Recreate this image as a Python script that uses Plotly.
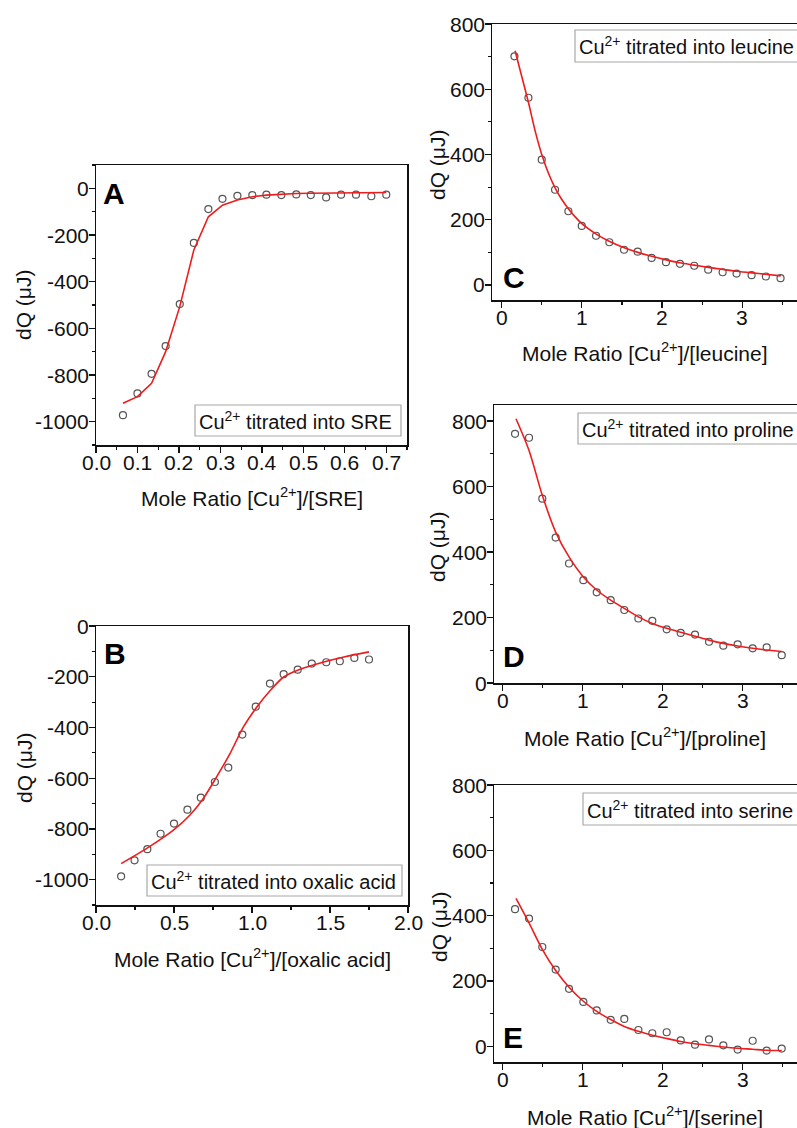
import plotly.graph_objects as go

W, H = 797, 1128

# ---------------- data ----------------
# Panel A: Cu2+ titrated into SRE
a_x = [0.065, 0.100, 0.134, 0.168, 0.202, 0.236, 0.271, 0.305, 0.341, 0.377,
       0.411, 0.447, 0.483, 0.518, 0.555, 0.591, 0.627, 0.664, 0.700]
a_y = [-972, -879, -795, -676, -496, -234, -89, -45, -32, -29,
       -27, -29, -26, -29, -39, -27, -27, -34, -27]
a_fit = [-921, -893, -836, -700, -507, -264, -122, -72, -50, -36,
         -29, -25, -22, -21, -20, -19, -19, -18, -18]

# Panel B: Cu2+ titrated into oxalic acid
b_x = [0.161, 0.247, 0.329, 0.414, 0.500, 0.586, 0.672, 0.762, 0.848, 0.938,
       1.024, 1.115, 1.203, 1.293, 1.383, 1.476, 1.563, 1.656, 1.750]
b_y = [-987, -924, -880, -819, -779, -724, -677, -615, -558, -428,
       -318, -227, -190, -172, -148, -143, -139, -126, -132]
b_fit_x = [0.161, 0.333, 0.494, 0.601, 0.687, 0.773, 0.859, 0.945, 1.031,
           1.117, 1.203, 1.289, 1.460, 1.589, 1.750]
b_fit_y = [-937, -874, -806, -746, -681, -595, -503, -398, -319,
           -254, -201, -175, -142, -122, -102]

# Panel C: Cu2+ titrated into leucine
c_x = [0.160, 0.334, 0.500, 0.666, 0.832, 0.999, 1.177, 1.343, 1.526, 1.696,
       1.870, 2.049, 2.223, 2.401, 2.575, 2.755, 2.929, 3.116, 3.294, 3.477]
c_y = [701, 574, 384, 292, 226, 181, 151, 131, 108, 102,
       83, 70, 65, 59, 47, 39, 35, 30, 26, 21]
c_fit_x = [0.168, 0.250, 0.334, 0.420, 0.500, 0.580, 0.666, 0.750, 0.832, 0.920,
           1.000, 1.180, 1.340, 1.520, 1.700, 1.870, 2.050, 2.220, 2.400, 2.580,
           2.750, 2.930, 3.120, 3.290, 3.480]
c_fit_y = [718, 640, 560, 470, 400, 345, 298, 262, 234, 208,
           188, 156, 134, 115, 100, 88, 77, 68, 61, 54,
           48, 42, 37, 33, 28]

# Panel D: Cu2+ titrated into proline
d_x = [0.154, 0.329, 0.495, 0.662, 0.829, 1.008, 1.175, 1.350, 1.520, 1.696,
       1.870, 2.050, 2.225, 2.404, 2.579, 2.758, 2.937, 3.125, 3.300, 3.488]
d_y = [761, 749, 563, 444, 365, 314, 277, 253, 223, 197,
       190, 164, 153, 148, 126, 114, 118, 106, 109, 85]
d_fit_x = [0.166, 0.329, 0.495, 0.662, 0.829, 1.008, 1.175, 1.350, 1.520, 1.696,
           1.870, 2.050, 2.225, 2.404, 2.579, 2.758, 2.937, 3.125, 3.300, 3.488]
d_fit_y = [807, 710, 573, 461, 385, 324, 284, 253, 228, 202,
           182, 167, 155, 143, 131, 121, 113, 106, 101, 96]

# Panel E: Cu2+ titrated into serine
e_x = [0.154, 0.329, 0.495, 0.662, 0.829, 1.008, 1.175, 1.350, 1.520, 1.696,
       1.870, 2.050, 2.225, 2.404, 2.579, 2.758, 2.937, 3.125, 3.300, 3.488]
e_y = [420, 391, 304, 235, 176, 136, 110, 81, 84, 50,
       40, 43, 18, 5, 21, 3, -10, 17, -13, -7]
e_fit_x = [0.166, 0.329, 0.495, 0.662, 0.829, 1.008, 1.175, 1.350, 1.520, 1.696,
           1.870, 2.050, 2.225, 2.404, 2.579, 2.758, 2.937, 3.125, 3.300, 3.488]
e_fit_y = [453, 378, 297, 232, 181, 138, 107, 82, 61, 46,
           34, 24, 15, 8, 3, -2, -6, -9, -12, -13]

# tick values and labels (hyphen minus, as in the reference)
neg_ticks = [0, -200, -400, -600, -800, -1000]
neg_labels = ["0", "-200", "-400", "-600", "-800", "-1000"]
pos_ticks = [0, 200, 400, 600, 800]
pos_labels = ["0", "200", "400", "600", "800"]
a_xticks = [0.0, 0.1, 0.2, 0.3, 0.4, 0.5, 0.6, 0.7]
a_xlabels = ["0.0", "0.1", "0.2", "0.3", "0.4", "0.5", "0.6", "0.7"]
b_xticks = [0.0, 0.5, 1.0, 1.5, 2.0]
b_xlabels = ["0.0", "0.5", "1.0", "1.5", "2.0"]
cde_xticks = [0, 1, 2, 3]
cde_xlabels = ["0", "1", "2", "3"]

panel_letters = ["A", "B", "C", "D", "E"]
legend_texts = ["Cu<sup>2+</sup> titrated into SRE",
                "Cu<sup>2+</sup> titrated into oxalic acid",
                "Cu<sup>2+</sup> titrated into leucine",
                "Cu<sup>2+</sup> titrated into proline",
                "Cu<sup>2+</sup> titrated into serine"]
x_titles = ["Mole Ratio [Cu<sup>2+</sup>]/[SRE]",
            "Mole Ratio [Cu<sup>2+</sup>]/[oxalic acid]",
            "Mole Ratio [Cu<sup>2+</sup>]/[leucine]",
            "Mole Ratio [Cu<sup>2+</sup>]/[proline]",
            "Mole Ratio [Cu<sup>2+</sup>]/[serine]"]
y_title = "dQ (μJ)"

# ---------------- styling / layout helpers ----------------
FONT = "Liberation Sans, Arial, Helvetica, sans-serif"
RED = "#ee1c1c"
MK = "#555555"
INK = "#111111"
TICKSIZE = 21


def px(x):
    return x / W


def py(y):
    return 1 - y / H


fig = go.Figure()

series = [
    ("", a_x, a_y, a_x, a_fit, "linear"),
    ("2", b_x, b_y, b_fit_x, b_fit_y, "spline"),
    ("3", c_x, c_y, c_fit_x, c_fit_y, "spline"),
    ("4", d_x, d_y, d_fit_x, d_fit_y, "spline"),
    ("5", e_x, e_y, e_fit_x, e_fit_y, "spline"),
]

for sfx, xs, ys, fx, fy, shape in series:
    fig.add_trace(go.Scatter(
        x=xs, y=ys, mode="markers", xaxis="x" + sfx, yaxis="y" + sfx,
        marker=dict(symbol="circle-open", size=7, color=MK, line=dict(width=1.2, color=MK)),
        showlegend=False, hoverinfo="skip"))
    fig.add_trace(go.Scatter(
        x=fx, y=fy, mode="lines", xaxis="x" + sfx, yaxis="y" + sfx,
        line=dict(color=RED, width=1.6, shape=shape, smoothing=0.8),
        showlegend=False, hoverinfo="skip"))

# frame pixel boxes: left, right, top, bottom
frames = [
    (96, 407, 165, 445),
    (96, 408, 626, 905),
    (492, 797, 24, 300),
    (494, 797, 405, 683),
    (494, 797, 785, 1062),
]
xranges = [[0, 0.75], [0, 2.0], [-0.12, 3.682], [-0.109, 3.679], [-0.109, 3.679]]
yranges = [[-1100, 100], [-1100, 0], [-46, 800], [0, 849], [-48, 800]]
ytickv = [neg_ticks, neg_ticks, pos_ticks, pos_ticks, pos_ticks]
ytickt = [neg_labels, neg_labels, pos_labels, pos_labels, pos_labels]
xtickv = [a_xticks, b_xticks, cde_xticks, cde_xticks, cde_xticks]
xtickt = [a_xlabels, b_xlabels, cde_xlabels, cde_xlabels, cde_xlabels]
xminor = [0.05, 0.25, 0.5, 0.5, 0.5]
full_box = [True, True, False, False, False]

layout = dict(
    template="none",
    width=W, height=H,
    margin=dict(l=0, r=0, t=0, b=0, autoexpand=False),
    paper_bgcolor="white", plot_bgcolor="white",
    font=dict(family=FONT, size=20, color=INK),
    showlegend=False,
)

for i, (l, r, t, b) in enumerate(frames):
    sfx = "" if i == 0 else str(i + 1)
    xa = dict(
        domain=[px(l), min(1.0, px(r))], range=xranges[i], anchor="y" + sfx,
        automargin=False,
        showgrid=False, zeroline=False, showline=True, linecolor=INK, linewidth=1.5,
        mirror=True, ticks="outside", ticklen=6, tickwidth=1.3, tickcolor=INK,
        tickmode="array", tickvals=xtickv[i], showticklabels=False,
        minor=dict(dtick=xminor[i], tick0=0, ticks="outside", ticklen=3, tickwidth=1.1,
                   tickcolor=INK, showgrid=False),
        fixedrange=True,
    )
    ya = dict(
        domain=[py(b), py(t)], range=yranges[i], anchor="x" + sfx,
        automargin=False,
        showgrid=False, zeroline=False, showline=True, linecolor=INK, linewidth=1.5,
        mirror=full_box[i], ticks="outside", ticklen=6, tickwidth=1.3, tickcolor=INK,
        tickmode="array", tickvals=ytickv[i], showticklabels=False,
        minor=dict(dtick=100, tick0=0, ticks="outside", ticklen=3, tickwidth=1.1,
                   tickcolor=INK, showgrid=False),
        fixedrange=True,
    )
    layout["xaxis" + sfx] = xa
    layout["yaxis" + sfx] = ya

    # tick labels placed through the axis scales, close to the tick marks
    for v, s in zip(ytickv[i], ytickt[i]):
        fig.add_annotation(xref="paper", yref="y" + sfx, x=px(l - 5), y=v,
                           xanchor="right", yanchor="middle", showarrow=False,
                           text=s, font=dict(size=TICKSIZE, family=FONT, color=INK))
    for v, s in zip(xtickv[i], xtickt[i]):
        fig.add_annotation(xref="x" + sfx, yref="paper", x=v, y=py(b + 4),
                           xanchor="center", yanchor="top", showarrow=False,
                           text=s, font=dict(size=TICKSIZE, family=FONT, color=INK))

fig.update_layout(**layout)

# legend-like boxes (pixel coords): x0, x1, y0, y1
boxes = [
    (195, 401, 405, 436),
    (147, 402, 865, 896),
    (575, 805, 30, 62),
    (578, 805, 413, 444),
    (583, 805, 793, 825),
]
for i, (x0, x1, y0, y1) in enumerate(boxes):
    fig.add_shape(type="rect", xref="paper", yref="paper",
                  x0=px(x0), x1=px(x1), y0=py(y1), y1=py(y0),
                  line=dict(color="#a8a8a8", width=1.2), fillcolor="white", layer="above")
    fig.add_annotation(xref="paper", yref="paper", x=px(x0 + 2), y=py((y0 + y1) / 2),
                       xanchor="left", yanchor="middle", showarrow=False,
                       text=legend_texts[i], font=dict(size=20, family=FONT, color=INK))

# panel letters
letter_pos = [(101, 193), (102, 653), (501, 277), (501, 656), (501, 1037)]
for i, (x, y) in enumerate(letter_pos):
    fig.add_annotation(xref="paper", yref="paper", x=px(x), y=py(y),
                       xanchor="left", yanchor="middle", showarrow=False,
                       text="<b>%s</b>" % panel_letters[i],
                       font=dict(size=30, family=FONT, color="#000000"))

# axis titles
xt_pos = [(252, 497), (252, 958), (645, 352), (645, 737), (645, 1116)]
for i, (x, y) in enumerate(xt_pos):
    fig.add_annotation(xref="paper", yref="paper", x=px(x), y=py(y),
                       xanchor="center", yanchor="middle", showarrow=False,
                       text=x_titles[i], font=dict(size=21, family=FONT, color=INK))

yt_pos = [(24, 305), (24, 768), (437, 165), (437, 547), (439, 927)]
for i, (x, y) in enumerate(yt_pos):
    fig.add_annotation(xref="paper", yref="paper", x=px(x), y=py(y),
                       xanchor="center", yanchor="middle", showarrow=False, textangle=-90,
                       text=y_title, font=dict(size=21, family=FONT, color=INK))

fig.write_html("out.html",
               config={"displayModeBar": False, "staticPlot": True},
               post_script="document.body.style.margin='0px';"
                           "document.body.style.overflow='hidden';")
